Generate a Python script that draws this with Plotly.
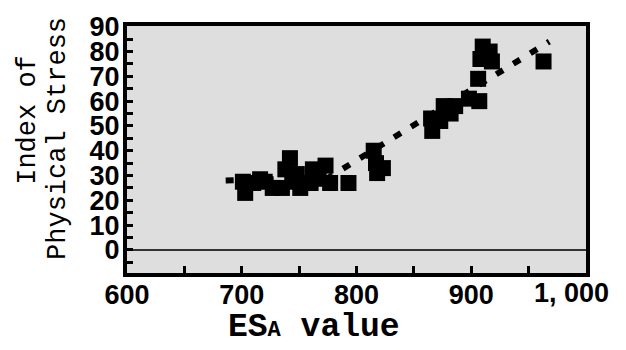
import plotly.graph_objects as go

# Data
esa_x = [701, 703, 710, 716, 720, 727, 735, 738, 742, 744, 748, 751, 760, 762, 767, 773, 777, 793,
         815, 817, 823, 818,
         865, 866, 873, 876, 882, 886, 898, 907, 906, 908, 910, 916, 918, 963]
stress_y = [27.5, 23, 27, 28.5, 27.5, 25, 25, 32.5, 37, 27.5, 30.6, 25, 27, 32.5, 28.7, 34, 27, 27,
            40, 35, 33, 31,
            53, 48, 52, 58, 55, 58, 61, 60, 69, 77, 82, 80, 76, 76]
trend_x = [686, 775, 968]
trend_y = [28, 29, 84]

x_tickvals = [600, 700, 800, 900]
x_ticktext = ["600", "700", "800", "900"]
y_tickvals = [0, 10, 20, 30, 40, 50, 60, 70, 80, 90]
y_ticktext = [str(v) for v in y_tickvals]

tick_font = dict(family="Liberation Sans, Arial, sans-serif", size=27, color="black", weight="bold")

W, H = 626, 350
l, r, t, b = 127, 40, 15, 77
pw, ph = W - l - r, H - t - b


def px2paper(px, py):
    return (px - l) / pw, (H - b - py) / ph


fig = go.Figure()
fig.add_trace(go.Scatter(x=trend_x, y=trend_y, mode="lines",
                         line=dict(color="black", width=6, dash="8px,12px"),
                         hoverinfo="skip", showlegend=False))
fig.add_trace(go.Scatter(x=esa_x, y=stress_y, mode="markers",
                         marker=dict(symbol="square", size=16, color="black",
                                     line=dict(width=0)),
                         showlegend=False))

xt, yt = px2paper(314, 330)
xi, yi = px2paper(28, 113)
xp, yp = px2paper(58, 133)

fig.update_layout(
    width=W, height=H,
    margin=dict(l=l, r=r, t=t, b=b),
    paper_bgcolor="white",
    plot_bgcolor="#dedede",
    font=dict(family="Liberation Sans, Arial, sans-serif", color="black"),
    xaxis=dict(range=[600, 1000], tickvals=x_tickvals, ticktext=x_ticktext,
               ticks="inside", ticklen=7, tickwidth=3, tickcolor="black",
               minor=dict(dtick=50, tick0=600, ticks="inside", ticklen=7, tickwidth=3, tickcolor="black"),
               showgrid=False, zeroline=False,
               showline=True, linecolor="black", linewidth=4, mirror=True,
               tickfont=tick_font, ticklabelstandoff=-5),
    yaxis=dict(range=[-9.3, 90.3], tickvals=y_tickvals, ticktext=y_ticktext,
               ticks="inside", ticklen=6, tickwidth=3, tickcolor="black",
               minor=dict(dtick=5, tick0=0, ticks="inside", ticklen=6, tickwidth=3, tickcolor="black"),
               showgrid=False, zeroline=True, zerolinecolor="#333333", zerolinewidth=2,
               showline=True, linecolor="black", linewidth=4, mirror=True,
               tickfont=tick_font, ticklabelstandoff=-2),
    annotations=[
        dict(x=1000, y=0, xref="x", yref="paper", yanchor="top", xanchor="center",
             xshift=-15, yshift=-3, text="1, 000", showarrow=False, font=tick_font),
        dict(x=xt, y=yt, xref="paper", yref="paper", xanchor="center", yanchor="middle",
             text="ES<span style='font-size:22px'>A</span> value", showarrow=False,
             font=dict(family="Liberation Mono, monospace", size=33, color="black", weight="bold")),
        dict(x=xi, y=yi, xref="paper", yref="paper", xanchor="center", yanchor="middle",
             text="Index of", textangle=-90, showarrow=False,
             font=dict(family="Liberation Mono, monospace", size=27, color="black")),
        dict(x=xp, y=yp, xref="paper", yref="paper", xanchor="center", yanchor="middle",
             text="Physical Stress", textangle=-90, showarrow=False,
             font=dict(family="Liberation Mono, monospace", size=27, color="black")),
    ],
)

fig.write_html("out.html")
